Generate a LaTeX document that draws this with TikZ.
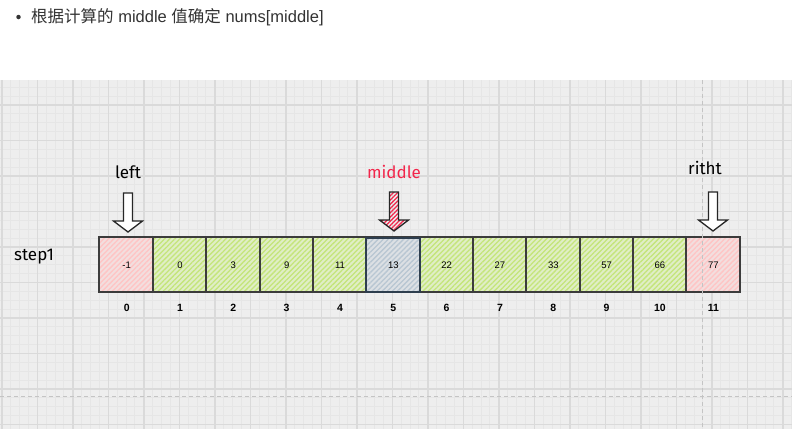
\documentclass[tikz,border=0pt]{standalone}
\usepackage{fontspec}
\setmainfont{Liberation Sans}
\newfontfamily\cjk{Noto Sans CJK SC}
\newfontfamily\hand{Fira Sans}
\usetikzlibrary{patterns.meta}
\definecolor{gridbg}{HTML}{EEEEEE}
\definecolor{gridminor}{HTML}{E6E6E6}
\definecolor{gridmajor}{HTML}{DADADA}
\definecolor{titlegray}{HTML}{333333}
\definecolor{pinkbase}{HTML}{F3DEDE}
\definecolor{pinkhatch}{HTML}{FFC4C4}
\definecolor{greenbase}{HTML}{E0EEC6}
\definecolor{greenhatch}{HTML}{C4E57A}
\definecolor{bluebase}{HTML}{DCE0E4}
\definecolor{bluehatch}{HTML}{B8C6D2}
\definecolor{boxline}{HTML}{3C3C3C}
\definecolor{navyline}{HTML}{2E3E4E}
\definecolor{midred}{HTML}{F2264B}
\definecolor{dashgray}{HTML}{C4C4C4}
\tikzset{
  cell/.style={minimum width=53.33pt, minimum height=54pt,
    inner sep=0pt, font=\fontsize{9.5}{9.5}\selectfont, anchor=center},
  pinkbox/.style={cell, preaction={fill=pinkbase},
    pattern={Lines[angle=45,distance=3.6pt,line width=1.3pt]}, pattern color=pinkhatch},
  greenbox/.style={cell, preaction={fill=greenbase},
    pattern={Lines[angle=45,distance=3.6pt,line width=1.3pt]}, pattern color=greenhatch},
  bluebox/.style={cell, preaction={fill=bluebase},
    pattern={Lines[angle=45,distance=3.6pt,line width=1.3pt]}, pattern color=bluehatch},
  cellborder/.style={draw=boxline, line width=2pt, line join=miter},
  idx/.style={font=\bfseries\fontsize{10.5}{10.5}\selectfont, inner sep=0pt},
  handlabel/.style={font=\hand\fontsize{17}{17}\selectfont, inner sep=0pt},
  arrowshape/.style={draw=black!85, line width=1.3pt, line join=miter},
  pics/downarr/.style={code={
    \path[pic actions] (-4.5,0) -- (4.5,0) -- (4.5,28) -- (14.5,28) -- (0,39)
      -- (-14.5,28) -- (-4.5,28) -- cycle;}}
}
\begin{document}
\begin{tikzpicture}[x=1pt,y=-1pt]
\useasboundingbox (0,0) rectangle (792,429);
\fill[white] (0,0) rectangle (792,429);
% title
\node[circle, fill=titlegray, inner sep=0pt, minimum size=4.5pt] (bullet) at (18.5,17) {};
\node[anchor=west, inner sep=0pt, text=titlegray, font=\fontsize{16.5}{16.5}\selectfont] (title) at (31,17)
  {{\cjk 根据计算的}\ middle\ {\cjk 值确定}\ nums[middle]};
% grid
\fill[gridbg] (0,80) rectangle (792,429);
\begin{scope}
\clip (0,80) rectangle (792,429);
\foreach \k in {0,...,90} \draw[gridminor, line width=0.9pt] (1.8+8.875*\k,80) -- (1.8+8.875*\k,429);
\foreach \k in {0,...,41} \draw[gridminor, line width=0.9pt] (0,69.5+8.875*\k) -- (792,69.5+8.875*\k);
\foreach \k in {0,...,22} \draw[gridmajor, line width=1.4pt] (1.8+35.5*\k,80) -- (1.8+35.5*\k,429);
\foreach \k in {0,...,9} \draw[gridmajor, line width=1.4pt] (0,105+35.5*\k) -- (792,105+35.5*\k);
\end{scope}
% boxes
\foreach \v/\s [count=\i from 0] in {-1/pinkbox,0/greenbox,3/greenbox,9/greenbox,11/greenbox,13/bluebox,22/greenbox,27/greenbox,33/greenbox,57/greenbox,66/greenbox,77/pinkbox}{
  \node[\s] (b\i) at (126.67+53.33*\i,265) {\v};
  \node[idx] (i\i) at (126.67+53.33*\i,308) {\i};
}
\draw[cellborder] (b0.north west) rectangle (b11.south east);
\foreach \j in {1,...,11}{
  \draw[cellborder] (b\j.north west) -- (b\j.south west);
}
\draw[cellborder, draw=navyline] (b5.north west) rectangle (b5.south east);
% dashed guide lines
\coordinate (vtop) at (702.5,80);
\coordinate (vbot) at (702.5,429);
\coordinate (hl) at (0,396);
\coordinate (hr) at (792,396);
\draw[dashgray, line width=1pt, dash pattern=on 4pt off 3pt] (vtop) -- (vbot);
\draw[dashgray, line width=1pt, dash pattern=on 4pt off 3pt] (hl) -- (hr);
% labels
\node[handlabel] (step) at (34,257) {step1};
\node[handlabel] (left) at (128,172) {left};
\node[handlabel, text=midred] (middle) at (394,172) {middle};
\node[handlabel] (right) at (705,168) {ritht};
% arrows
\pic[arrowshape, fill=white] (la) at (128,193) {downarr};
\pic[arrowshape, preaction={fill=white}, pattern={Lines[angle=45,distance=3pt,line width=1.3pt]}, pattern color=midred] (ma) at (394,192) {downarr};
\pic[arrowshape, fill=white] (ra) at (713,192) {downarr};
\end{tikzpicture}
\end{document}
